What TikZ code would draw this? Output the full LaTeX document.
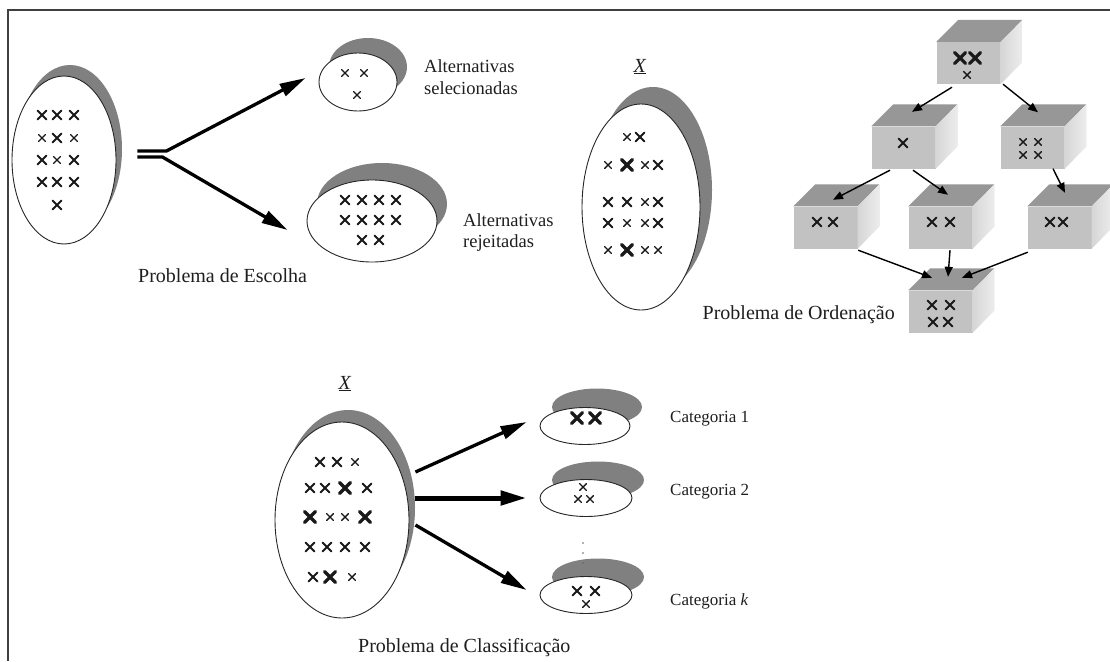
\documentclass[tikz,border=0pt]{standalone}
\usepackage{fontspec}
\setmainfont{Liberation Serif}
\usetikzlibrary{shapes.geometric,arrows.meta,calc}

\definecolor{shadowgray}{HTML}{808080}
\definecolor{frontgray}{HTML}{C2C2C2}
\definecolor{topgray}{HTML}{979797}
\definecolor{sidelight}{HTML}{EDEDED}
\definecolor{sidedark}{HTML}{D6D6D6}
\definecolor{txt}{HTML}{1E1E1E}

\tikzset{
  ell/.style={ellipse, draw=black!85, line width=0.9pt, fill=white, inner sep=0pt},
  shd/.style={ellipse, fill=shadowgray, inner sep=0pt},
  cubefront/.style={rectangle, fill=frontgray, inner sep=0pt,
                    minimum width=64pt, minimum height=42pt},
  cubetop/.style={fill=topgray},
  cubeside/.style={left color=sidedark, right color=sidelight},
  xline/.style={draw=black!90, line cap=round},
  bigarrow/.style={line width=3.3pt, line join=miter,
                   -{Triangle[length=26pt,width=13pt]}},
  midarrow/.style={line width=5pt,
                   -{Triangle[length=26pt,width=14pt]}},
  ordarrow/.style={line width=1.4pt, -{Triangle[length=10pt,width=8pt]}},
  lbl/.style={inner sep=0pt, text=txt, font=\fontsize{20}{24}\selectfont},
  lblsmall/.style={inner sep=0pt, text=txt, align=left,
                   font=\fontsize{18.5}{21}\selectfont},
  lblcat/.style={inner sep=0pt, text=txt, font=\fontsize{17}{20}\selectfont},
}

% ellipse with a grey crescent behind it: name, x, y, width, height, shift right, shift up
\newcommand\shadowell[7]{%
  \node[shd, minimum width=#4pt, minimum height=#5pt] (#1s) at (#2+#6,#3-#7) {};
  \node[ell, minimum width=#4pt, minimum height=#5pt] (#1) at (#2,#3) {};
}
% grey box seen in perspective: name, x, y of the front face centre
\newcommand\cube[3]{%
  \node[cubefront] (#1) at (#2,#3) {};
  \fill[cubetop] (#1.north west) -- ++(22,-22) -- ++(64,0) -- (#1.north east) -- cycle;
  \shade[cubeside] (#1.north east) -- ++(22,-22) -- ++(0,42) -- (#1.south east) -- cycle;
}
% little crosses standing for alternatives
\newcommand\xmk[4]{\draw[xline, line width=#4pt] (#1-#3,#2-#3) -- (#1+#3,#2+#3) (#1-#3,#2+#3) -- (#1+#3,#2-#3);}
\newcommand\crossS[2]{\xmk{#1}{#2}{3.4}{1.4}}
\newcommand\crossM[2]{\xmk{#1}{#2}{4.4}{2}}
\newcommand\crossB[2]{\xmk{#1}{#2}{5.4}{3.2}}

\begin{document}
\begin{tikzpicture}[x=1pt, y=-1pt]
\useasboundingbox (0,0) rectangle (1110,661);

% frame
\draw[line width=2pt, black!75] (1110,10) -- (8,10) -- (8,661);

% ---------------- choice problem ----------------
\shadowell{e1}{64}{160}{104}{168}{6}{11}
\shadowell{e2}{358}{82}{78}{58}{10}{15}
\shadowell{e3}{372}{221}{130}{82}{10}{17}

\crossM{42}{115}\crossM{57}{115}\crossM{74}{115}
\crossS{42}{138}\crossM{57}{138}\crossS{74}{138}
\crossM{42}{160}\crossS{57}{160}\crossM{74}{160}
\crossM{42}{182}\crossM{57}{182}\crossM{74}{182}
\crossM{57}{205}

\crossS{345}{73}\crossS{364}{73}\crossS{357}{95}

\crossM{345}{200}\crossM{362}{200}\crossM{379}{200}\crossM{396}{200}
\crossM{345}{220}\crossM{362}{220}\crossM{379}{220}\crossM{396}{220}
\crossM{362}{240}\crossM{379}{240}

\draw[bigarrow] ($(e1.east)+(21,-9)$) -- ++(29,0) -- ($(e2.west)+(-13,-4)$);
\draw[bigarrow] ($(e1.east)+(21,-3)$) -- ++(25,0) -- ($(e3.west)+(-19,9)$);

\node[lbl, anchor=base west] (esc) at (138,282) {Problema de Escolha};
\node[lblsmall, anchor=west] (sel) at (424,79.3) {\strut Alternativas\\\strut selecionadas};
\node[lblsmall, anchor=west] (rej) at (463,232.3) {\strut Alternativas\\\strut rejeitadas};

% ---------------- set X ----------------
\node[lbl, anchor=base] (xtop) at (640,72) {\underline{\textit{X}}};
\shadowell{ex}{641}{207}{118}{206}{12}{17}
\crossS{627}{137}\crossM{640}{137}
\crossS{608}{165}\crossB{627}{165}\crossS{645}{165}\crossM{658}{165}
\crossM{608}{202}\crossM{627}{202}\crossS{645}{202}\crossM{658}{202}
\crossM{608}{223}\crossS{627}{223}\crossS{645}{223}\crossM{658}{223}
\crossS{608}{250}\crossB{627}{250}\crossS{645}{250}\crossS{658}{250}

% ---------------- ordering problem ----------------
\cube{t}{968.5}{63}
\cube{ml}{903.5}{147.5}
\cube{mr}{1032.5}{147.5}
\cube{bl}{825.5}{227.5}
\cube{bm}{940.5}{227.5}
\cube{br}{1059.5}{227.5}
\cube{b}{940.5}{311.5}

\crossB{960}{58}\crossB{975}{58}\crossS{967}{75}
\crossM{903}{143}
\crossS{1023}{142}\crossS{1038}{142}\crossS{1023}{155}\crossS{1038}{155}
\crossM{817}{222}\crossM{833}{222}
\crossM{932}{222}\crossM{950}{222}
\crossM{1050}{222}\crossM{1063}{222}
\crossM{932}{305}\crossM{950}{305}\crossM{933}{322}\crossM{948}{322}

\draw[ordarrow] ($(t.south)+(-16.5,3)$) -- ($(ml.north)+(8.5,-14.5)$);
\draw[ordarrow] ($(t.south)+(34.5,0)$) -- ($(mr.north)+(5.5,-14)$);
\draw[ordarrow] ($(ml.south)+(-13.5,1.5)$) -- ($(bl.north)+(7.5,-6.5)$);
\draw[ordarrow] ($(ml.south)+(9.5,1.5)$) -- ($(bm.north)+(7.5,-11.5)$);
\draw[ordarrow] ($(mr.south)+(20.5,0)$) -- ($(br.north)+(5.5,-13.5)$);
\draw[ordarrow] ($(bl.south east)+(0.5,1.5)$) -- ($(b.north)+(-8.5,-12.5)$);
\draw[ordarrow] ($(bm.south)+(9.5,1.5)$) -- ($(b.north)+(7.5,-13.5)$);
\draw[ordarrow] ($(br.south west)+(0.5,3.5)$) -- ($(b.north)+(21.5,-12.5)$);

\node[lbl, anchor=base east] (ord) at (895,319) {Problema de Ordenação};

% ---------------- classification problem ----------------
\node[lbl, anchor=base] (xbot) at (345,389) {\underline{\textit{X}}};
\shadowell{c}{342}{520}{134}{196}{6}{12}
\crossM{320}{462}\crossM{337}{462}\crossS{355}{462}
\crossM{310}{488}\crossM{325}{488}\crossB{345}{488}\crossM{367}{488}
\crossB{310}{517}\crossS{330}{517}\crossS{345}{517}\crossB{365}{517}
\crossM{310}{547}\crossM{327}{547}\crossM{345}{547}\crossM{365}{547}
\crossM{313}{577}\crossB{330}{577}\crossS{352}{577}

\shadowell{k1}{585}{426}{90}{37}{12}{19}
\shadowell{k2}{586}{498}{92}{37}{12}{18}
\shadowell{k3}{586}{595}{92}{37}{12}{18}

\crossB{577}{418}\crossB{595}{418}
\crossS{583}{487}\crossS{578}{499}\crossS{590}{499}
\crossM{577}{591}\crossM{595}{591}\crossS{586}{604}

\foreach \dy in {543,553,563} \fill[black!60] (583,\dy) circle (0.9);

\draw[bigarrow] ($(c.east)+(6,-48)$) -- ($(k1.west)+(-13,-4)$);
\draw[midarrow] ($(c.east)+(6,-22)$) -- ($(k2.west)+(-13,0)$);
\draw[bigarrow] ($(c.east)+(6,5)$) -- ($(k3.west)+(-13,-5)$);

\node[lblcat, anchor=base west] (cat1) at (670,422) {Categoria 1};
\node[lblcat, anchor=base west] (cat2) at (670,495) {Categoria 2};
\node[lblcat, anchor=base west] (catk) at (670,605) {Categoria \textit{k}};

\node[lbl, anchor=base west] (cls) at (358,652) {Problema de Classificação};
\end{tikzpicture}
\end{document}
